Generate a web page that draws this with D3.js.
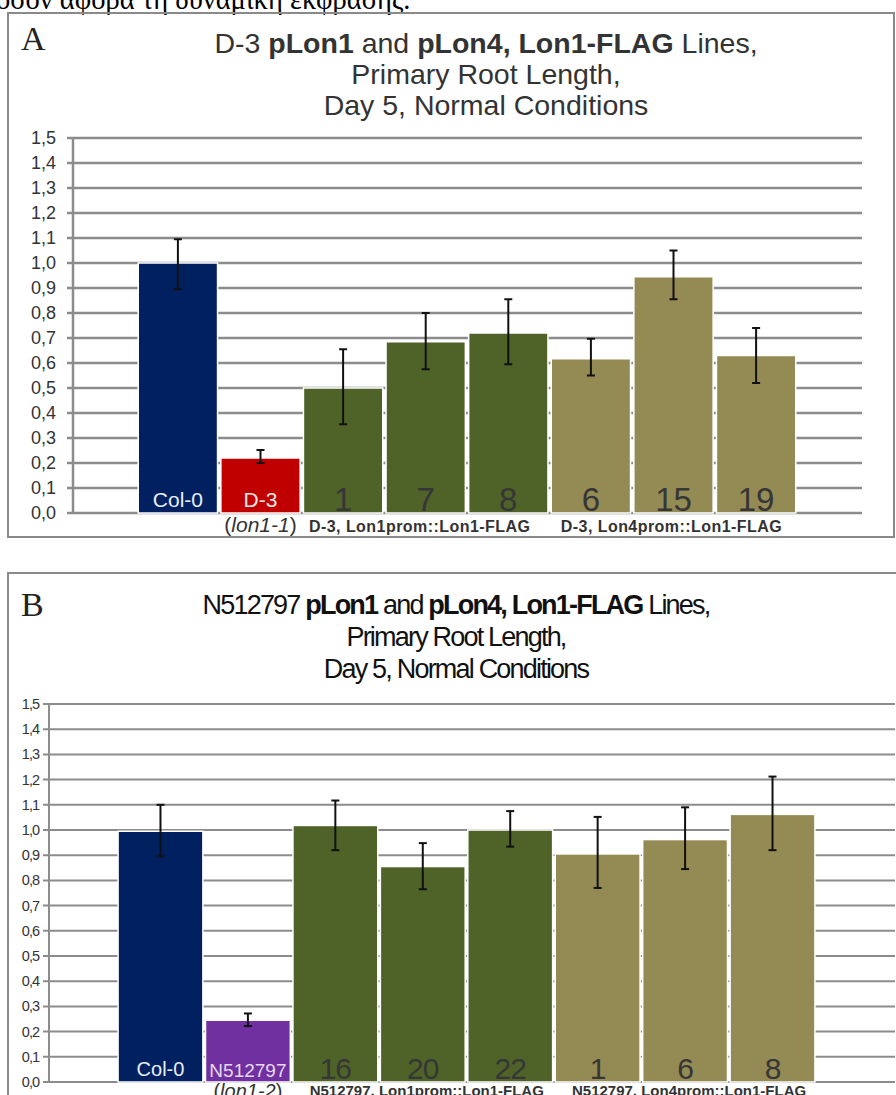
<!DOCTYPE html>
<html><head><meta charset="utf-8">
<script src="https://cdn.jsdelivr.net/npm/d3@7"></script>
<style>body{margin:0;background:#fff}svg{display:block}</style>
</head><body>
<script>
// ---- data ----
const categoriesA = ["Col-0","D-3","1","7","8","6","15","19"];
const groupsA = ["wt","mutantA","lon1prom","lon1prom","lon1prom","lon4prom","lon4prom","lon4prom"];
const valuesA = [1.0, 0.22, 0.50, 0.685, 0.72, 0.617, 0.945, 0.63];
const errLowA = [0.895, 0.20, 0.355, 0.575, 0.595, 0.55, 0.855, 0.52];
const errHighA = [1.095, 0.252, 0.655, 0.80, 0.855, 0.697, 1.05, 0.74];

const categoriesB = ["Col-0","N512797","16","20","22","1","6","8"];
const groupsB = ["wt","mutantB","lon1prom","lon1prom","lon1prom","lon4prom","lon4prom","lon4prom"];
const valuesB = [0.995, 0.245, 1.018, 0.855, 1.0, 0.905, 0.962, 1.062];
const errLowB = [0.895, 0.222, 0.92, 0.765, 0.934, 0.77, 0.845, 0.92];
const errHighB = [1.10, 0.272, 1.117, 0.948, 1.075, 1.052, 1.09, 1.212];

const yTicks = [0,0.1,0.2,0.3,0.4,0.5,0.6,0.7,0.8,0.9,1.0,1.1,1.2,1.3,1.4,1.5];
const yDomain = [0, 1.5];

const groupColors = {wt:"#012060", mutantA:"#c00000", mutantB:"#7030a0", lon1prom:"#4f6228", lon4prom:"#948a54"};

const titleA = [[["D-3 ",false],["pLon1",true],[" and ",false],["pLon4, Lon1-FLAG",true],[" Lines,",false]],[["Primary Root Length,",false]],[["Day 5, Normal Conditions",false]]];
const titleB = [[["N512797 ",false],["pLon1",true],[" and ",false],["pLon4, Lon1-FLAG",true],[" Lines,",false]],[["Primary Root Length,",false]],[["Day 5, Normal Conditions",false]]];

const groupLabelsA = [["D-3, Lon1prom::Lon1-FLAG",["1","7","8"]],["D-3, Lon4prom::Lon1-FLAG",["6","15","19"]]];
const groupLabelsB = [["N512797, Lon1prom::Lon1-FLAG",["16","20","22"]],["N512797, Lon4prom::Lon1-FLAG",["1","6","8"]]];

const locale = d3.formatLocale({decimal:",", thousands:".", grouping:[3], currency:["",""]});
const fmt = locale.format(".1f");

const svg = d3.select("body").append("svg").attr("width",896).attr("height",1095);

// Greek text line cut at top
svg.append("text").attr("x",-4).attr("y",9)
  .attr("font-family","'Liberation Serif','Times New Roman',serif").attr("font-size",28.5).attr("fill","#000")
  .text("όσον αφορά τη δυναμική έκφρασης.");

function drawPanel(o){
  const g = svg.append("g");
  g.append("rect").attr("x",o.box[0]).attr("y",o.box[1]).attr("width",o.box[2]).attr("height",o.box[3])
    .attr("fill","none").attr("stroke","#8a8a8a").attr("stroke-width",2);
  g.append("text").attr("x",o.letterX).attr("y",o.letterY)
    .attr("font-family","'Liberation Serif','Times New Roman',serif").attr("font-size",34).attr("fill","#222")
    .text(o.letter);
  o.title.forEach((line,i)=>{
    const t = g.append("text").attr("x",o.titleX).attr("y",o.titleY + i*o.titleDy)
      .attr("text-anchor","middle").attr("font-family",o.font).attr("font-size",o.titleSize)
      .attr("letter-spacing",o.titleLS).attr("fill",o.titleColor);
    line.forEach(([s,b])=>t.append("tspan").attr("font-weight",b?"bold":"normal").text(s));
  });
  const y = d3.scaleLinear().domain(yDomain).range([o.y0,o.y1]);
  const x = d3.scaleBand().domain(o.cats).range([o.axisX,o.bandRight]).paddingInner(o.padIn).paddingOuter(o.padOut);
  g.append("g").selectAll("line").data(yTicks).join("line")
    .attr("x1",o.axisX-6).attr("x2",o.gridRight).attr("y1",d=>y(d)).attr("y2",d=>y(d))
    .attr("stroke","#8c8c8c").attr("stroke-width",o.gridW);
  g.append("line").attr("x1",o.axisX).attr("x2",o.axisX).attr("y1",y(1.5)).attr("y2",y(0))
    .attr("stroke","#8c8c8c").attr("stroke-width",o.gridW);
  g.append("g").selectAll("text").data(yTicks).join("text")
    .attr("x",o.axisX-o.labelGap).attr("y",d=>y(d)).attr("dy","0.35em").attr("text-anchor","end")
    .attr("font-family",o.font).attr("font-size",o.tickSize).attr("letter-spacing",o.tickLS).attr("fill","#333")
    .text(d=>fmt(d));
  g.append("g").selectAll("rect").data(o.cats).join("rect")
    .attr("x",d=>x(d)).attr("width",x.bandwidth())
    .attr("y",(d,i)=>y(o.vals[i])).attr("height",(d,i)=>y(0)-y(o.vals[i]))
    .attr("fill",(d,i)=>groupColors[o.groups[i]]).attr("stroke","#fff").attr("stroke-width",1.5);
  const eb = g.append("g").attr("stroke","#111").attr("stroke-width",2);
  o.cats.forEach((c,i)=>{
    const cx = x(c)+x.bandwidth()/2;
    eb.append("line").attr("x1",cx).attr("x2",cx).attr("y1",y(o.lo[i])).attr("y2",y(o.hi[i]));
    eb.append("line").attr("x1",cx-4).attr("x2",cx+4).attr("y1",y(o.lo[i])).attr("y2",y(o.lo[i]));
    eb.append("line").attr("x1",cx-4).attr("x2",cx+4).attr("y1",y(o.hi[i])).attr("y2",y(o.hi[i]));
  });
  o.cats.forEach((c,i)=>{
    const cx = x(c)+x.bandwidth()/2;
    const isNum = i>=2;
    g.append("text").attr("x",cx).attr("y",isNum?o.numY:(i===1?o.mutY:o.nameY)).attr("text-anchor","middle")
      .attr("font-family",o.font)
      .attr("font-size",isNum?o.numSize:(i===1?o.mutSize:o.nameSize))
      .attr("letter-spacing",isNum?o.numLS:(i===1?o.mutLS:o.nameLS))
      .attr("fill",isNum?"#363636":(i===1?o.mutColor:"#e8eef8"))
      .text(c);
  });
  const mx = x(o.cats[1])+x.bandwidth()/2;
  const mt = g.append("text").attr("x",mx).attr("y",o.subY).attr("text-anchor","middle")
    .attr("font-family",o.font).attr("font-size",o.subSize).attr("fill","#333");
  mt.append("tspan").text("(");
  mt.append("tspan").attr("font-style","italic").text(o.allele);
  mt.append("tspan").text(")");
  o.groupLabels.forEach(([lab,members],k)=>{
    const x0 = x(members[0]), x1 = x(members[members.length-1])+x.bandwidth();
    g.append("text").attr("x",(x0+x1)/2 + o.groupDx[k]).attr("y",o.groupY).attr("text-anchor","middle")
      .attr("font-family",o.font).attr("font-weight","bold").attr("font-size",o.groupSize)
      .attr("letter-spacing",o.groupLS).attr("fill","#333").text(lab);
  });
}

drawPanel({
  box:[8,13,886,524], letter:"A", letterX:21, letterY:50,
  title:titleA, titleX:486, titleY:53, titleDy:31, titleSize:28.5, titleLS:0, titleColor:"#333",
  font:"'Liberation Sans',Arial,sans-serif",
  cats:categoriesA, groups:groupsA, vals:valuesA, lo:errLowA, hi:errHighA,
  y0:513, y1:138, axisX:73, bandRight:861, gridRight:862, padIn:0.04, padOut:0.79, gridW:2.5,
  labelGap:17, tickSize:18, tickLS:0,
  nameY:507, nameSize:21, mutY:507, mutSize:21, mutLS:0, mutColor:"#f2e6e6", nameLS:0,
  numY:511, numSize:33, numLS:0,
  subY:532, subSize:21, allele:"lon1-1",
  groupLabels:groupLabelsA, groupY:532, groupSize:16, groupLS:0.45, groupDx:[-6,-2]
});

drawPanel({
  box:[8,573,890,540], letter:"B", letterX:21, letterY:616,
  title:titleB, titleX:456, titleY:614, titleDy:32, titleSize:27, titleLS:-1.8, titleColor:"#111",
  font:"'Liberation Sans',Arial,sans-serif",
  cats:categoriesB, groups:groupsB, vals:valuesB, lo:errLowB, hi:errHighB,
  y0:1082, y1:704, axisX:49, bandRight:884, gridRight:895, padIn:0.03, padOut:0.79, gridW:2,
  labelGap:10, tickSize:14.5, tickLS:-1,
  nameY:1076, nameSize:20, mutY:1077, mutSize:19, mutLS:0, mutColor:"#e6d8f2", nameLS:0,
  numY:1079, numSize:30, numLS:-1,
  subY:1098, subSize:20, allele:"lon1-2",
  groupLabels:groupLabelsB, groupY:1096, groupSize:15, groupLS:0, groupDx:[4,4]
});
</script>
</body></html>
